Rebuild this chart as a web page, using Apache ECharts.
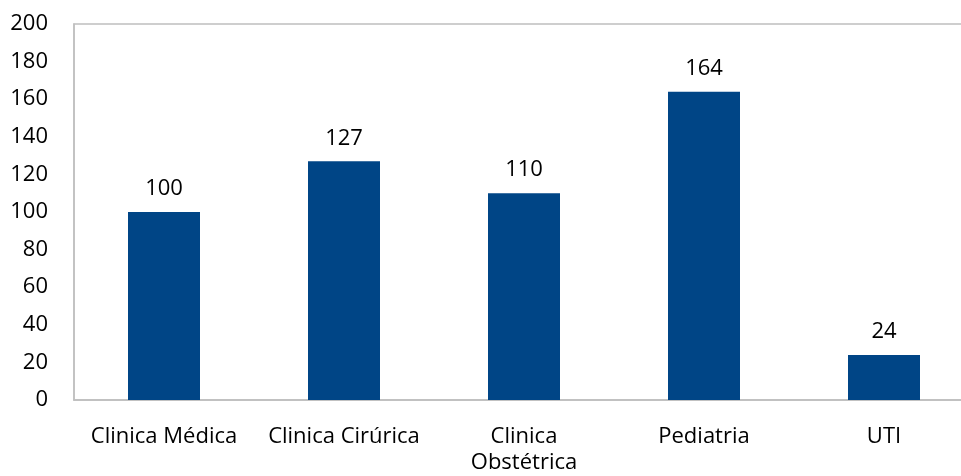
<!DOCTYPE html>
<html><head><meta charset="utf-8">
<script src="https://cdn.jsdelivr.net/npm/echarts@6/dist/echarts.min.js"></script>
<style>html,body{margin:0;padding:0;background:#fff}#c{width:961px;height:476px}</style>
</head><body><div id="c"></div>
<script>
const categories = ['Clinica Médica', 'Clinica Cirúrica', 'Clinica Obstétrica', 'Pediatria', 'UTI'];
const values = [100, 127, 110, 164, 24];
const yTicks = {min: 0, max: 200, interval: 20};
const FONT = 'Open Sans';
const FS = 22;
const chart = echarts.init(document.getElementById('c'));
chart.setOption({
  animation: false,
  grid: {left: 74, width: 900, top: 24, height: 376, show: true, borderColor: '#bfbfbf', borderWidth: 1.5,
    containLabel: false, outerBoundsMode: 'none'},
  xAxis: {
    type: 'category', data: categories,
    axisLine: {show: true, lineStyle: {color: '#bfbfbf', width: 1.5}},
    axisTick: {show: false},
    axisLabel: {color: '#000', fontFamily: FONT, fontSize: FS, margin: 24, lineHeight: 26, interval: 0,
      formatter: v => v === 'Clinica Obstétrica' ? 'Clinica\nObstétrica' : v}
  },
  yAxis: {
    type: 'value', min: yTicks.min, max: yTicks.max, interval: yTicks.interval,
    axisLine: {show: true, lineStyle: {color: '#bfbfbf', width: 1.5}},
    axisTick: {show: false},
    splitLine: {show: false},
    axisLabel: {color: '#000', fontFamily: FONT, fontSize: FS, margin: 26}
  },
  series: [{
    type: 'bar', data: values, barWidth: 72,
    itemStyle: {color: '#004586'},
    label: {show: true, position: 'top', distance: 12, color: '#000', fontFamily: FONT, fontSize: FS}
  }]
});
</script></body></html>
